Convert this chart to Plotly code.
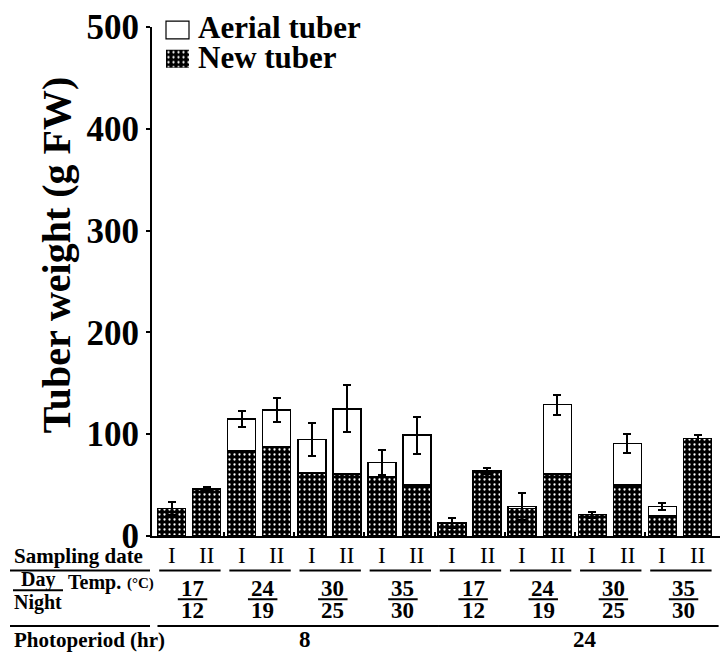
import plotly.graph_objects as go

# ---------------- data ----------------
sampling_dates = ["I", "II"] * 8
temp_day = ["17", "24", "30", "35", "17", "24", "30", "35"]
temp_night = ["12", "19", "25", "30", "12", "19", "25", "30"]
photoperiods = ["8", "24"]
new_tuber = [27, 46, 84, 88, 62, 61, 58, 50, 13, 64, 27, 61, 21, 50, 20, 96]
aerial_tuber = [0, 0, 31, 36, 33, 64, 14, 49, 0, 0, 2, 68, 0, 41, 9, 0]
total_error = [6, 2, 8, 12, 16, 23, 12, 18, 5, 3, 13, 10, 3, 9, 3, 3.5]
y_ticks = [0, 100, 200, 300, 400, 500]

# ---------------- geometry ----------------
W, H = 728, 652
L, R, T, B = 152, 720, 21, 536
X0, X1 = -0.556, 15.64
FONT = "Liberation Serif"


def py(p):  # pixel row -> paper y
    return (B - p) / (B - T)


def px(p):  # pixel column -> paper x
    return (p - L) / (R - L)


xs = list(range(len(new_tuber)))
pattern = dict(shape=".", bgcolor="black", fgcolor="white", size=5,
               solidity=0.16, fillmode="replace")

fig = go.Figure()
fig.add_trace(go.Bar(
    x=xs, y=new_tuber, name="New tuber", width=0.8,
    marker=dict(color="black", pattern=pattern, line=dict(color="black", width=1.5)),
    showlegend=False,
))
fig.add_trace(go.Bar(
    x=xs, y=aerial_tuber, name="Aerial tuber", width=0.8,
    marker=dict(color="white", line=dict(color="black", width=1.5)),
    error_y=dict(type="data", array=total_error, visible=True,
                 color="black", thickness=2, width=4),
    showlegend=False,
))
# legend swatch for the patterned series (own small axes)
fig.add_trace(go.Bar(
    x=[0], y=[1], width=1, xaxis="x2", yaxis="y2", showlegend=False,
    marker=dict(color="black", pattern=pattern, line=dict(color="black", width=1)),
    hoverinfo="skip",
))

shapes = []
ann = []
bold = dict(family=FONT, color="black", weight="bold")


def label(text, x, y, size, xref="paper", xanchor="center", weight_bold=True):
    f = dict(size=size, **bold) if weight_bold else dict(family=FONT, size=size, color="black")
    ann.append(dict(text=text, x=x, y=y, xref=xref, yref="paper", xanchor=xanchor,
                    yanchor="middle", showarrow=False, font=f))


# legend
shapes.append(dict(type="rect", xref="paper", yref="paper",
                   x0=px(166), x1=px(189), y0=py(33), y1=py(15),
                   fillcolor="white", line=dict(color="black", width=1.2)))
label("Aerial tuber", px(196), py(22), 31, xanchor="left")
label("New tuber", px(196), py(52), 31, xanchor="left")

# y title
ann.append(dict(text="Tuber weight (g FW)", x=px(56), y=py(252), xref="paper", yref="paper",
                textangle=-90, xanchor="center", yanchor="middle", showarrow=False,
                font=dict(size=40, **bold)))

# ---- table below the axis ----
label("Sampling date", px(12), py(556), 21, xanchor="left")
shapes.append(dict(type="line", xref="paper", yref="paper", x0=px(10), x1=px(150),
                   y0=py(571), y1=py(571), line=dict(color="black", width=2)))
for i, s in enumerate(sampling_dates):
    label(s, xs[i], py(556), 23, xref="x", weight_bold=False)
for g in range(8):
    shapes.append(dict(type="line", xref="x", yref="paper",
                       x0=xs[2 * g] - 0.35, x1=xs[2 * g + 1] + 0.4,
                       y0=py(571), y1=py(571), line=dict(color="black", width=2)))
    c = (xs[2 * g] + xs[2 * g + 1]) / 2 + 0.1
    label(temp_day[g], c, py(589), 23, xref="x")
    label(temp_night[g], c, py(611), 23, xref="x")
    shapes.append(dict(type="line", xref="x", yref="paper", x0=c - 0.42, x1=c + 0.42,
                       y0=py(600), y1=py(600), line=dict(color="black", width=2)))

label("Day", px(38), py(580), 20)
label("Night", px(38), py(603), 20)
shapes.append(dict(type="line", xref="paper", yref="paper", x0=px(13), x1=px(63),
                   y0=py(591), y1=py(591), line=dict(color="black", width=2)))
label("Temp.", px(66), py(583), 20, xanchor="left")
label("(°C)", px(125), py(584), 15, xanchor="left")

# photoperiod row
shapes.append(dict(type="line", xref="paper", yref="paper", x0=px(10), x1=px(150),
                   y0=py(627), y1=py(627), line=dict(color="black", width=2)))
for p in range(2):
    a, b = xs[8 * p], xs[8 * p + 7]
    shapes.append(dict(type="line", xref="x", yref="paper", x0=a - 0.4, x1=b + 0.6,
                       y0=py(627), y1=py(627), line=dict(color="black", width=2)))
    label(photoperiods[p], (a + b) / 2 + 0.3, py(641), 23, xref="x")
label("Photoperiod (hr)", px(12), py(641), 21, xanchor="left")

fig.update_layout(
    width=W, height=H,
    margin=dict(l=L, r=W - R, t=T, b=H - B, pad=0),
    paper_bgcolor="white", plot_bgcolor="white",
    barmode="stack", bargap=0.2,
    showlegend=False,
    xaxis=dict(range=[X0, X1], showline=True, linecolor="black", linewidth=2,
               showgrid=False, zeroline=False, showticklabels=False,
               tickvals=[xs[2 * g + 1] + 0.5 for g in range(7)],
               ticks="inside", ticklen=4, tickwidth=1.5, tickcolor="black"),
    yaxis=dict(range=[0, 500], tickvals=y_ticks, showline=True, linecolor="black",
               linewidth=2, showgrid=False, zeroline=False, ticks="outside",
               ticklen=4, tickwidth=1.5, tickcolor="black",
               tickfont=dict(size=35, **bold)),
    xaxis2=dict(domain=[px(166), px(189)], range=[-0.5, 0.5], visible=False,
                anchor="y2", fixedrange=True),
    yaxis2=dict(domain=[py(62), py(44)], range=[0, 1], visible=False,
                anchor="x2", fixedrange=True),
    shapes=shapes, annotations=ann,
)

fig.write_html("out.html")
